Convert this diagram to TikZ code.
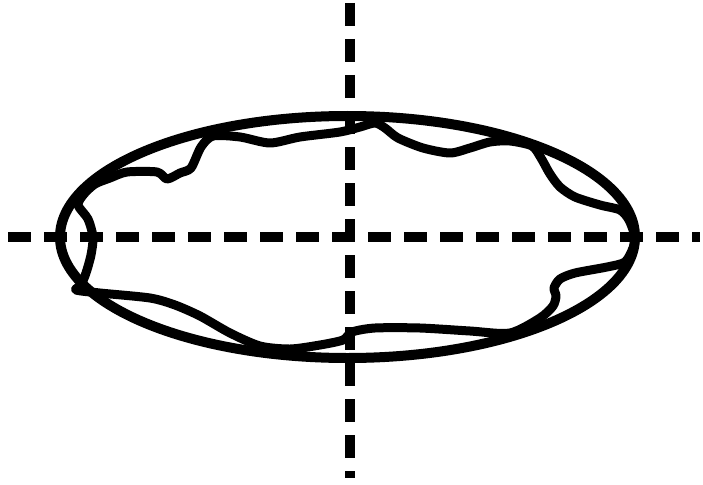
\documentclass[tikz,border=0pt]{standalone}
\usetikzlibrary{shapes.geometric}
\begin{document}
\begin{tikzpicture}[x=1pt,y=-1pt,
  axisline/.style={line width=10pt, dash pattern=on 22.5pt off 13.5pt},
  outline/.style={line width=10pt},
  blob/.style={line width=9pt, line join=round}]
\useasboundingbox (0,0) rectangle (703,484);
\coordinate (hl) at (8,237);
\coordinate (hr) at (700,237);
\coordinate (vt) at (350,3);
\coordinate (vb) at (350,478);
\draw[axisline] (hl) -- (hr);
\draw[axisline, dash pattern=on 23pt off 13pt] (vt) -- (vb);
\node[draw, outline, ellipse, minimum width=575pt, minimum height=242pt, inner sep=0pt] (ell) at (347.5,237) {};
\draw[blob] plot[smooth cycle, tension=0.45] coordinates {
 (76,290) (100,293) (150,298) (175,305) (200,316) (230,333) (260,346) (290,349)
 (320,345) (343,340) (352,332) (375,328) (420,328) (470,331) (510,333) (540,318) (553,306)
 (556,296) (554,288) (560,279) (575,273) (607,267) (625,262) (633,248) (635,237)
 (629,220) (620,210) (600,205) (575,197) (560,187) (550,174) (541,158) (532,146)
 (510,141) (490,142) (470,148) (450,153) (423,148) (398,138) (385,128) (375,123)
 (360,127) (340,132) (300,137) (270,143) (240,137) (213,136) (201,147) (191,168)
 (180,173) (167,179) (157,172) (127,172) (110,178) (95,184) (84,194) (78,205) (88,219)
 (93,237) (91,255) (86,273) (81,285)};
\end{tikzpicture}
\end{document}
